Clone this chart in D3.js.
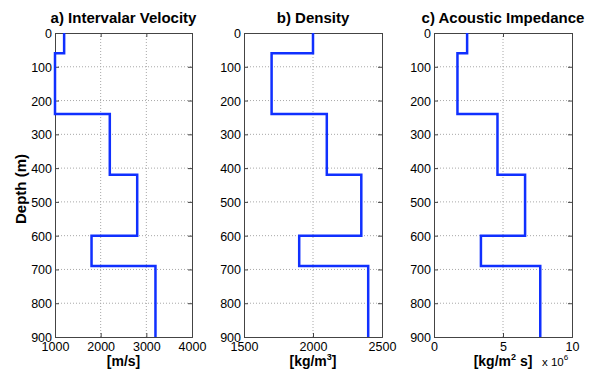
<!DOCTYPE html>
<html>
<head>
<meta charset="utf-8">
<script src="https://cdn.jsdelivr.net/npm/d3@7"></script>
<style>
  body { margin: 0; background: #fff; }
  svg { display: block; font-family: 'Liberation Sans', Arial, sans-serif; }
</style>
</head>
<body>
<div id="chart"></div>
<script>
// layer boundaries (m)
const depths = [0, 60, 240, 420, 600, 690, 900];
// interval values per layer
const velocity = [1200, 1000, 2200, 2800, 1800, 3200];
const density = [2000, 1700, 2100, 2350, 1900, 2400];
const impedance = [2.4, 1.7, 4.6, 6.6, 3.4, 7.7]; // x 10^6

const depthTicks = [0, 100, 200, 300, 400, 500, 600, 700, 800, 900];
const velTicks = [1000, 2000, 3000, 4000];
const denTicks = [1500, 2000, 2500];
const impTicks = [0, 5, 10];

const width = 596, height = 373;
const plotTop = 33, plotBottom = 337;

const panels = [
  { title: 'a) Intervalar Velocity', values: velocity, domain: [1000, 4000], ticks: velTicks, left: 55, right: 192, unit: 'vel' },
  { title: 'b) Density', values: density, domain: [1500, 2500], ticks: denTicks, left: 244, right: 382, unit: 'den' },
  { title: 'c) Acoustic Impedance', values: impedance, domain: [0, 10], ticks: impTicks, left: 434, right: 572, unit: 'imp' }
];

const svg = d3.select('#chart').append('svg')
  .attr('width', width)
  .attr('height', height)
  .attr('viewBox', [0, 0, width, height]);

const y = d3.scaleLinear().domain([0, 900]).range([plotTop, plotBottom]);

panels.forEach(p => {
  const x = d3.scaleLinear().domain(p.domain).range([p.left, p.right]);
  const g = svg.append('g');

  // grid
  g.append('g')
    .selectAll('line')
    .data(p.ticks.slice(1, -1))
    .join('line')
    .attr('x1', d => x(d)).attr('x2', d => x(d))
    .attr('y1', plotTop).attr('y2', plotBottom)
    .attr('stroke', '#a8a8a8').attr('stroke-width', 1).attr('stroke-dasharray', '1,2');
  g.append('g')
    .selectAll('line')
    .data(depthTicks.slice(1, -1))
    .join('line')
    .attr('x1', p.left).attr('x2', p.right)
    .attr('y1', d => y(d)).attr('y2', d => y(d))
    .attr('stroke', '#a8a8a8').attr('stroke-width', 1).attr('stroke-dasharray', '1,2');

  // axes (inward ticks)
  const axL = g.append('g').attr('transform', `translate(${p.left},0)`)
    .call(d3.axisLeft(y).tickValues(depthTicks).tickSize(-4).tickPadding(3).tickFormat(d3.format('d')));
  const axR = g.append('g').attr('transform', `translate(${p.right},0)`)
    .call(d3.axisRight(y).tickValues(depthTicks).tickSize(-4).tickFormat(''));
  const axB = g.append('g').attr('transform', `translate(0,${plotBottom})`)
    .call(d3.axisBottom(x).tickValues(p.ticks).tickSize(-4).tickPadding(5).tickFormat(d3.format('d')));
  const axT = g.append('g').attr('transform', `translate(0,${plotTop})`)
    .call(d3.axisTop(x).tickValues(p.ticks).tickSize(-4).tickFormat(''));
  [axL, axR, axB, axT].forEach(a => {
    a.selectAll('path').attr('stroke', '#444').attr('stroke-width', 1);
    a.selectAll('line').attr('stroke', '#444');
    a.selectAll('text').attr('font-size', 12.5).attr('fill', '#000')
      .attr('font-family', "'Liberation Sans', Arial, sans-serif");
  });
  axL.selectAll('text').attr('dy', '0.36em');
  axB.selectAll('text').attr('dy', '0.72em');

  // step profile
  const pts = depths.map((d, i) => [p.values[Math.min(i, p.values.length - 1)], d]);
  const line = d3.line()
    .x(d => x(d[0]))
    .y(d => y(d[1]))
    .curve(d3.curveStepBefore);
  g.append('path')
    .datum(pts)
    .attr('d', line)
    .attr('fill', 'none')
    .attr('stroke', '#1030ff')
    .attr('stroke-width', 2.5);

  // title
  const cx = (p.left + p.right) / 2;
  g.append('text')
    .attr('x', cx).attr('y', 23)
    .attr('text-anchor', 'middle')
    .attr('font-size', 15).attr('font-weight', 'bold')
    .text(p.title);

  // x label
  const lab = g.append('text')
    .attr('x', cx).attr('y', 366)
    .attr('text-anchor', 'middle')
    .attr('font-size', 14).attr('font-weight', 'bold');
  if (p.unit === 'vel') {
    lab.text('[m/s]');
  } else if (p.unit === 'den') {
    lab.append('tspan').text('[kg/m');
    lab.append('tspan').attr('font-size', 9).attr('dy', -6).text('3');
    lab.append('tspan').attr('dy', 6).text(']');
  } else {
    lab.append('tspan').text('[kg/m');
    lab.append('tspan').attr('font-size', 9).attr('dy', -6).text('2');
    lab.append('tspan').attr('dy', 6).text(' s]');
    const ex = g.append('text')
      .attr('x', 542).attr('y', 366)
      .attr('font-size', 11.5);
    ex.append('tspan').text('x 10');
    ex.append('tspan').attr('font-size', 8).attr('dy', -6).text('6');
  }
});

// shared y label
svg.append('text')
  .attr('transform', `translate(26,${(plotTop + plotBottom) / 2 + 4}) rotate(-90)`)
  .attr('text-anchor', 'middle')
  .attr('font-size', 15).attr('font-weight', 'bold')
  .text('Depth (m)');
</script>
</body>
</html>
